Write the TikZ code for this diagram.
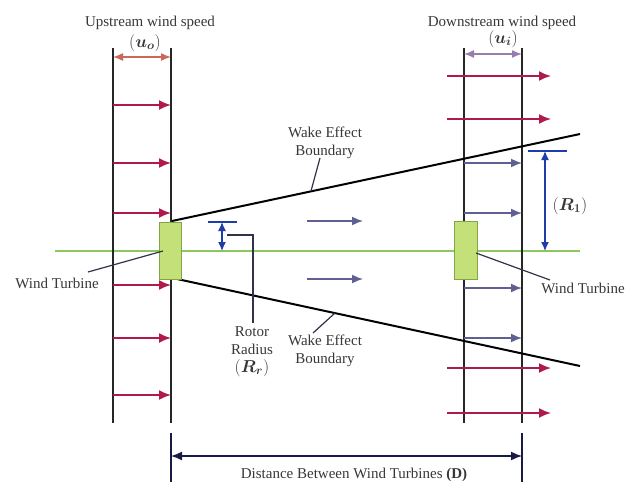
\documentclass[tikz,border=0pt]{standalone}
\usepackage{fontspec}
\setmainfont{Liberation Serif}
\usepackage{amsmath}
\usetikzlibrary{arrows.meta}
\definecolor{crim}{RGB}{175,25,75}
\definecolor{salm}{RGB}{200,105,90}
\definecolor{lilac}{RGB}{150,125,175}
\definecolor{slate}{RGB}{95,95,145}
\definecolor{rblue}{RGB}{30,60,170}
\definecolor{navy}{RGB}{25,25,70}
\definecolor{gline}{RGB}{140,200,95}
\definecolor{gfill}{RGB}{195,225,120}
\definecolor{gedge}{RGB}{130,165,70}
\definecolor{txt}{RGB}{55,55,55}
\definecolor{ldr}{RGB}{50,50,75}
\begin{document}
\begin{tikzpicture}[x=1pt,y=-1pt,
  pole/.style={line width=2.2pt, black!85},
  wind/.style={crim, line width=1.8pt, -{Latex[length=12pt,width=10pt]}},
  wk/.style={slate, line width=1.6pt, -{Latex[length=11pt,width=9pt]}},
  spd/.style={line width=1.4pt, {Latex[length=10pt,width=8pt]}-{Latex[length=10pt,width=8pt]}},
  rad/.style={rblue, line width=1.3pt, {Latex[length=9pt,width=8pt]}-{Latex[length=9pt,width=8pt]}},
  tick/.style={rblue, line width=1.3pt},
  wakeline/.style={line width=2pt, black},
  lead/.style={line width=1.2pt, ldr},
  lbl/.style={text=txt, font=\fontsize{15}{18}\selectfont, align=center, inner sep=0pt},
  mlbl/.style={text=txt, font=\fontsize{17}{20}\selectfont, inner sep=0pt},
  turb/.style={draw=gedge, fill=gfill, line width=0.8pt, minimum width=22pt, minimum height=57pt, inner sep=0pt}]
\useasboundingbox (0,0) rectangle (637,482);
% coordinates
\coordinate (L1t) at (113,48); \coordinate (L1b) at (113,423);
\coordinate (L2t) at (171,48); \coordinate (L2b) at (171,423);
\coordinate (R1t) at (464,48); \coordinate (R1b) at (464,423);
\coordinate (R2t) at (522,48); \coordinate (R2b) at (522,423);
\coordinate (gA) at (55,251); \coordinate (gB) at (580,251);
% axis
\draw[gline, line width=1.5pt] (gA) -- (gB);
% poles
\draw[pole] (L1t) -- (L1b);
\draw[pole] (L2t) -- (L2b);
\draw[pole] (R1t) -- (R1b);
\draw[pole] (R2t) -- (R2b);
% wake boundaries
\coordinate (wT0) at (172,221); \coordinate (wT1) at (580,134);
\coordinate (wB0) at (177,279); \coordinate (wB1) at (580,366);
\draw[wakeline] (wT0) -- (wT1);
\draw[wakeline] (wB0) -- (wB1);
% turbines
\node[turb] (T1) at (170,250.5) {};
\node[turb, minimum width=23pt, minimum height=58pt] (T2) at (465.5,250) {};
% upstream arrows
\foreach \y in {105,163,213,285,338,395}{
  \coordinate (ua) at (113,\y); \coordinate (ub) at (171,\y);
  \draw[wind] (ua) -- (ub);
}
% downstream red arrows
\foreach \y in {76,119,368,413}{
  \coordinate (da) at (447,\y); \coordinate (db) at (551,\y);
  \draw[wind] (da) -- (db);
}
% downstream slate arrows
\foreach \y in {163,213,288,338}{
  \coordinate (sa) at (464,\y); \coordinate (sb) at (522,\y);
  \draw[wk] (sa) -- (sb);
}
% middle arrows
\foreach \y in {221,279}{
  \coordinate (ma) at (307,\y); \coordinate (mb) at (363,\y);
  \draw[wk] (ma) -- (mb);
}
% speed width arrows
\coordinate (uo1) at (113,57); \coordinate (uo2) at (171,57);
\draw[spd, salm] (uo1) -- (uo2);
\coordinate (ui1) at (464,54); \coordinate (ui2) at (522,54);
\draw[spd, lilac] (ui1) -- (ui2);
% rotor radius marker
\coordinate (rt1) at (208,222); \coordinate (rt2) at (237,222);
\draw[tick] (rt1) -- (rt2);
\coordinate (ra) at (222,222); \coordinate (rb) at (222,251);
\draw[rad] (ra) -- (rb);
% R1 marker
\coordinate (Rt1) at (528,151); \coordinate (Rt2) at (567,151);
\draw[tick] (Rt1) -- (Rt2);
\coordinate (Ra) at (545,151); \coordinate (Rb) at (545,251);
\draw[rad] (Ra) -- (Rb);
% labels
\node[lbl] (up) at (150,23) {Upstream wind speed};
\node[mlbl] (uo) at (145,43) {$(\boldsymbol{u_o})$};
\node[lbl] (down) at (502,23) {Downstream wind speed};
\node[mlbl] (ui) at (503,39) {$(\boldsymbol{u_i})$};
\node[lbl] (wkT) at (325,143) {Wake Effect\\Boundary};
\node[lbl] (wkB) at (325,351) {Wake Effect\\Boundary};
\node[lbl] (rr) at (252,341) {Rotor\\Radius};
\node[mlbl] (rrm) at (252,368) {$(\boldsymbol{R_r})$};
\node[mlbl] (r1) at (570,206) {$(\boldsymbol{R_1})$};
\node[lbl] (wtL) at (57,283) {Wind Turbine};
\node[lbl] (wtR) at (583,288) {Wind Turbine};
\node[lbl] (dist) at (354,475) {Distance Between Wind Turbines \textbf{(D)}};
% leaders
\coordinate (lw1) at (88,272); \coordinate (lw2) at (163,251);
\draw[lead] (lw1) -- (lw2);
\coordinate (rw1) at (476,253); \coordinate (rw2) at (550,280);
\draw[lead] (rw1) -- (rw2);
\coordinate (lt1) at (320,158); \coordinate (lt2) at (311,191);
\draw[lead] (lt1) -- (lt2);
\coordinate (lb1) at (313,333); \coordinate (lb2) at (335,313);
\draw[lead] (lb1) -- (lb2);
\coordinate (lr1) at (227,235); \coordinate (lr2) at (253,235); \coordinate (lr3) at (253,323);
\draw[lead] (lr1) -- (lr2) -- (lr3);
% distance
\coordinate (dL1) at (171,433); \coordinate (dL2) at (171,482);
\coordinate (dR1) at (522,433); \coordinate (dR2) at (522,482);
\draw[navy, line width=1.5pt] (dL1) -- (dL2);
\draw[navy, line width=1.5pt] (dR1) -- (dR2);
\coordinate (dA) at (171,456); \coordinate (dB) at (522,456);
\draw[navy, line width=1.5pt, {Latex[length=11pt,width=9pt]}-{Latex[length=11pt,width=9pt]}] (dA) -- (dB);
\end{tikzpicture}
\end{document}
